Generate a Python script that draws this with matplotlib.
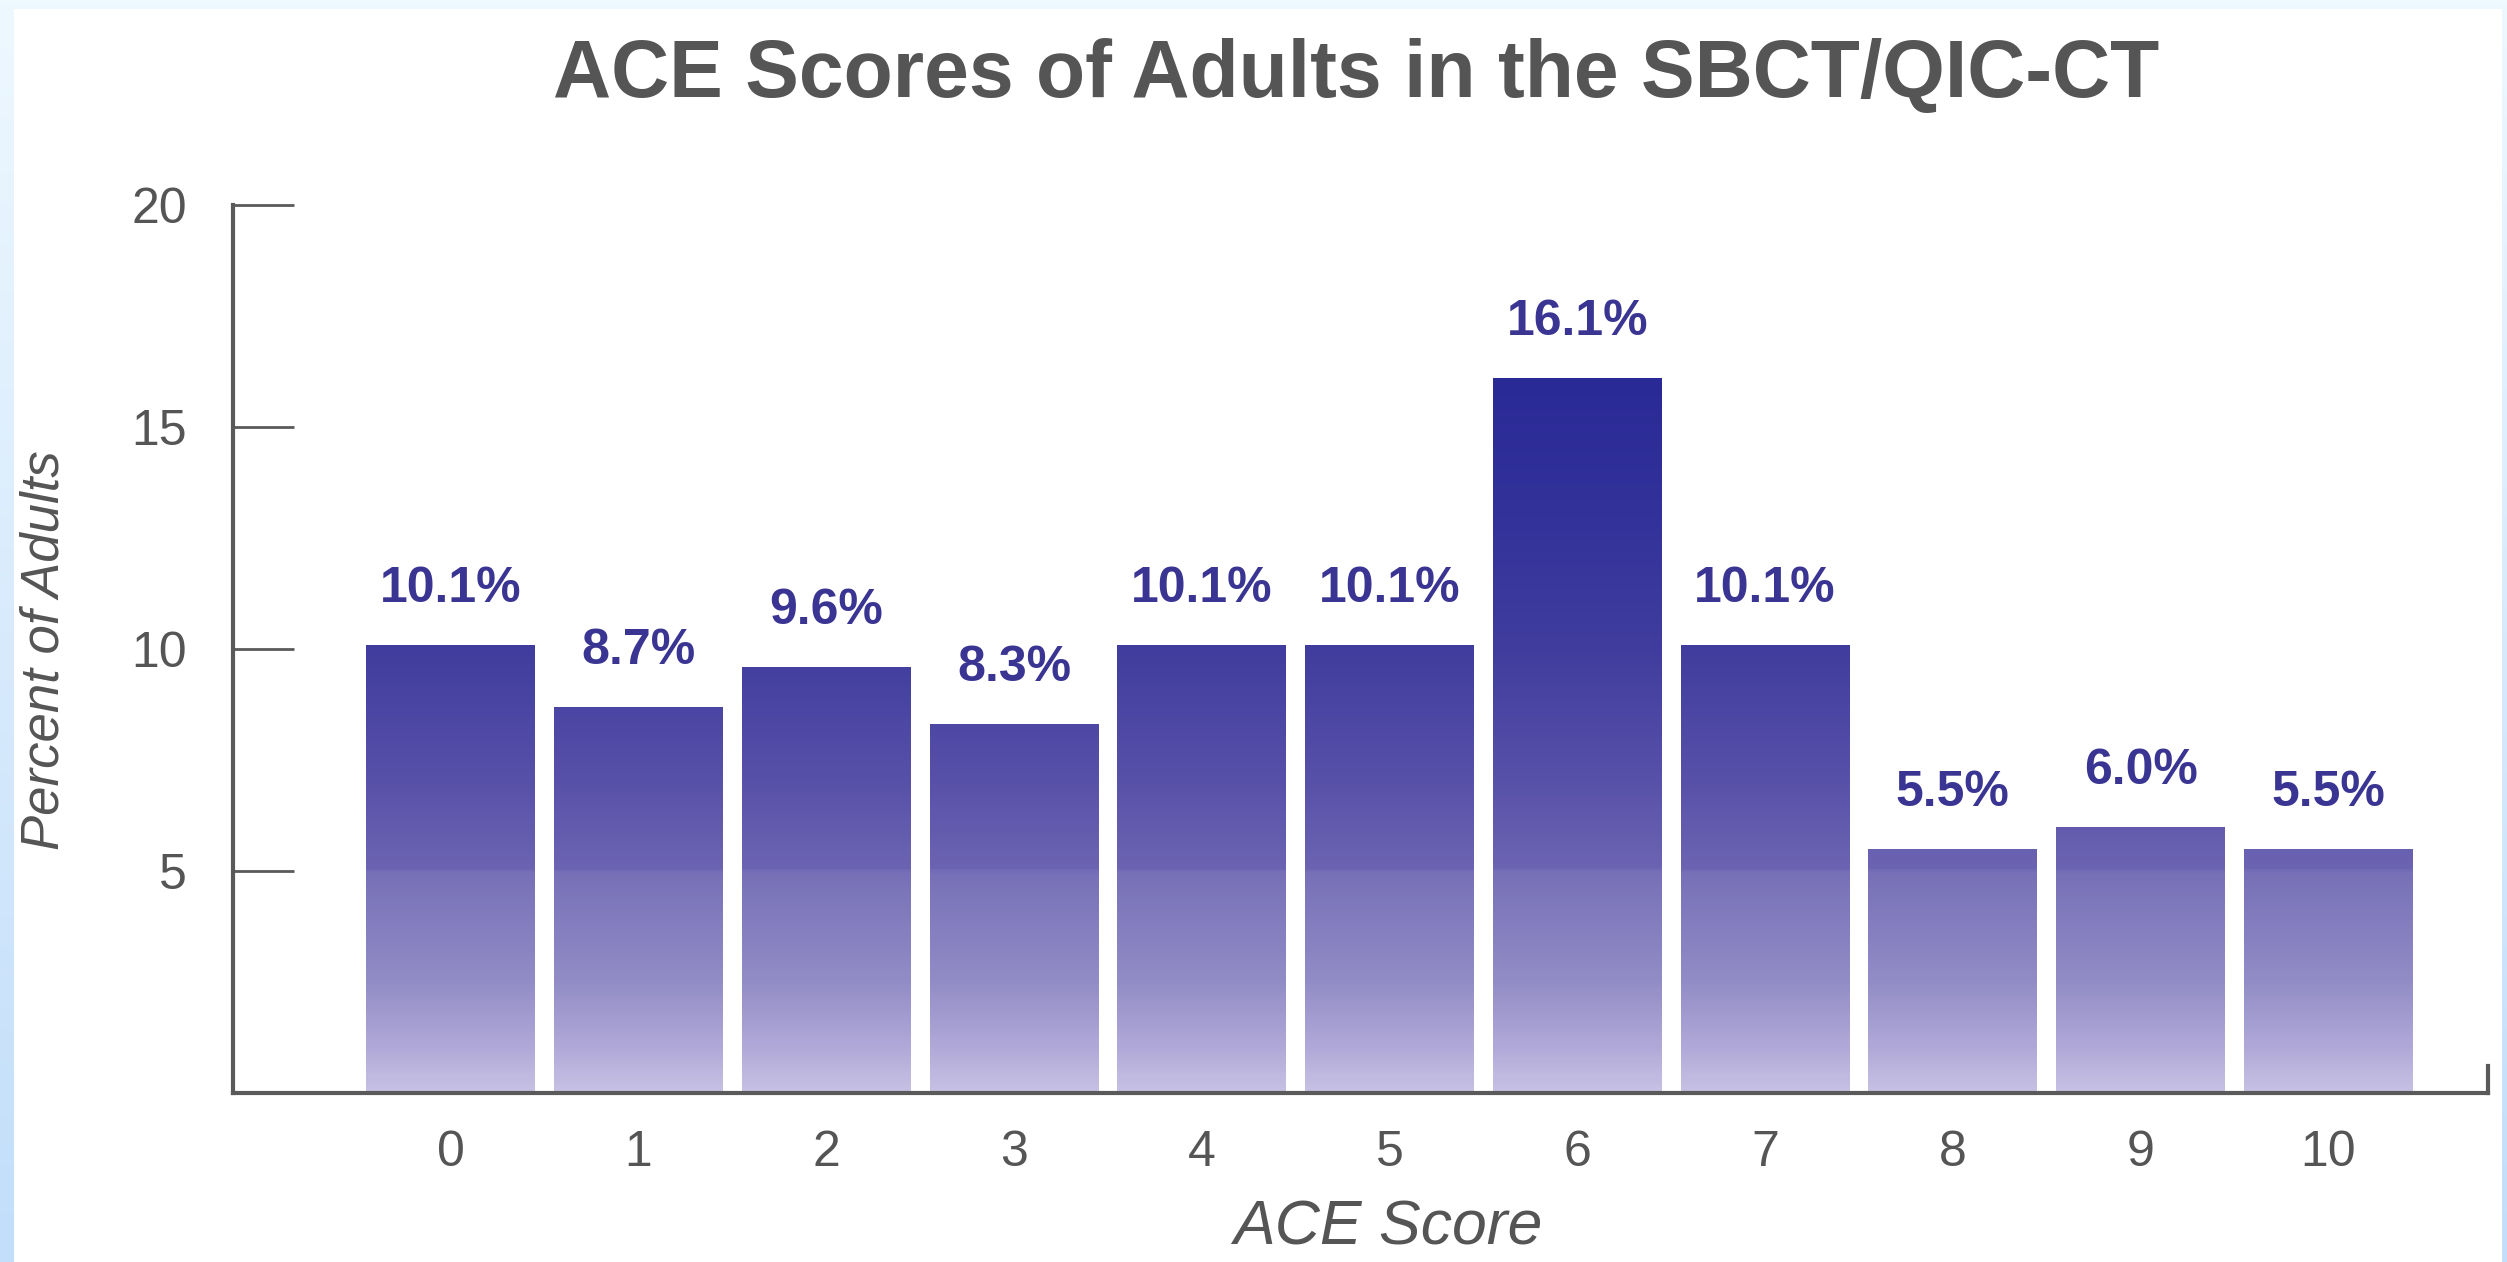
import numpy as np
import matplotlib
matplotlib.use("Agg")
import matplotlib.pyplot as plt
from matplotlib.colors import LinearSegmentedColormap, Normalize
from matplotlib.patches import Rectangle

# ---- data ----
scores = [0, 1, 2, 3, 4, 5, 6, 7, 8, 9, 10]
percents = [10.1, 8.7, 9.6, 8.3, 10.1, 10.1, 16.1, 10.1, 5.5, 6.0, 5.5]
value_labels = ["10.1%", "8.7%", "9.6%", "8.3%", "10.1%", "10.1%", "16.1%",
                "10.1%", "5.5%", "6.0%", "5.5%"]
y_ticks = [5, 10, 15, 20]
title = "ACE Scores of Adults in the SBCT/QIC-CT"
xlabel = "ACE Score"
ylabel = "Percent of Adults"

W, H = 2507, 1262
fig = plt.figure(figsize=(W / 100, H / 100), dpi=100)
fig.patch.set_facecolor("#e8f4fe")

# background: light-blue frame with gradient, white panel
bg = fig.add_axes([0, 0, 1, 1], zorder=-10)
bg.axis("off")
grad = np.linspace(0, 1, 256).reshape(-1, 1)
bg_cmap = LinearSegmentedColormap.from_list("bg", ["#eef8ff", "#c2defa"])
bg.imshow(grad, aspect="auto", cmap=bg_cmap, extent=[0, 1, 0, 1], origin="upper")
bg.set_xlim(0, 1)
bg.set_ylim(0, 1)
bg.add_patch(Rectangle((14 / W, 0), (2502 - 14) / W, (H - 9) / H,
                       facecolor="white", edgecolor="none", transform=bg.transAxes))

left, right = 233 / W, 2488 / W
bottom, top = (H - 1093) / H, (H - 205) / H
ax = fig.add_axes([left, bottom, right - left, top - bottom])
ax.set_facecolor("none")

ymax_data = max(percents)
norm = Normalize(0, ymax_data)
bar_cmap = LinearSegmentedColormap.from_list("bars", [
    (0.0, "#c8c1e4"),
    (1.0 / ymax_data, "#b0a9d8"),
    (2.5 / ymax_data, "#928cc6"),
    (4.95 / ymax_data, "#7770b8"),
    (5.05 / ymax_data, "#6c64b2"),
    (7.0 / ymax_data, "#5851a9"),
    (10.0 / ymax_data, "#403d9e"),
    (13.0 / ymax_data, "#33329a"),
    (1.0, "#2a2a97"),
])

width = 0.9
bars = ax.bar(scores, percents, width=width, color="none", edgecolor="none", zorder=2)
for b, v in zip(bars, percents):
    x0 = b.get_x()
    yy = np.linspace(0, v, 300).reshape(-1, 1)
    im = ax.imshow(yy, cmap=bar_cmap, norm=norm, aspect="auto", origin="lower",
                   extent=[x0, x0 + b.get_width(), 0, v], zorder=2, interpolation="bilinear")
    im.set_clip_path(b)

for x, v, lab in zip(scores, percents, value_labels):
    ax.annotate(lab, (x, v), xytext=(0, 31), textcoords="offset points",
                ha="center", va="baseline", fontsize=36, fontweight="bold",
                color="#3a3592", family="Liberation Sans")

ax.set_xlim(-1.16, 10.85)
ax.set_ylim(0, 20)

ax.spines["top"].set_visible(False)
ax.spines["right"].set_bounds(0, 0.6)
for s in ["left", "bottom", "right"]:
    ax.spines[s].set_color("#5a5a5a")
    ax.spines[s].set_linewidth(3)

ax.set_yticks(y_ticks)
ax.set_yticklabels([str(t) for t in y_ticks])
ax.set_xticks(scores)
ax.set_xticklabels([str(s) for s in scores])
ax.tick_params(axis="y", direction="in", length=44, width=2, color="#5a5a5a",
               pad=33, labelsize=36, labelcolor="#555555")
ax.tick_params(axis="x", length=0, pad=27, labelsize=36, labelcolor="#555555")
for t in ax.get_xticklabels() + ax.get_yticklabels():
    t.set_family("Liberation Sans")

fig.text(1388 / W, 1 - 1228 / H, xlabel, ha="center", va="center",
         fontsize=45, style="italic", color="#555555", family="Liberation Sans")
fig.text(45 / W, 1 - 650 / H, ylabel, rotation=90, ha="center", va="center",
         fontsize=38, style="italic", color="#555555",
         family=["Liberation Sans Narrow", "Liberation Sans"])

fig.text(1356 / W, 1 - 76 / H, title, ha="center", va="center", fontsize=58,
         fontweight="bold", color="#555555", family="Liberation Sans")

fig.savefig("out.png", dpi=100)
